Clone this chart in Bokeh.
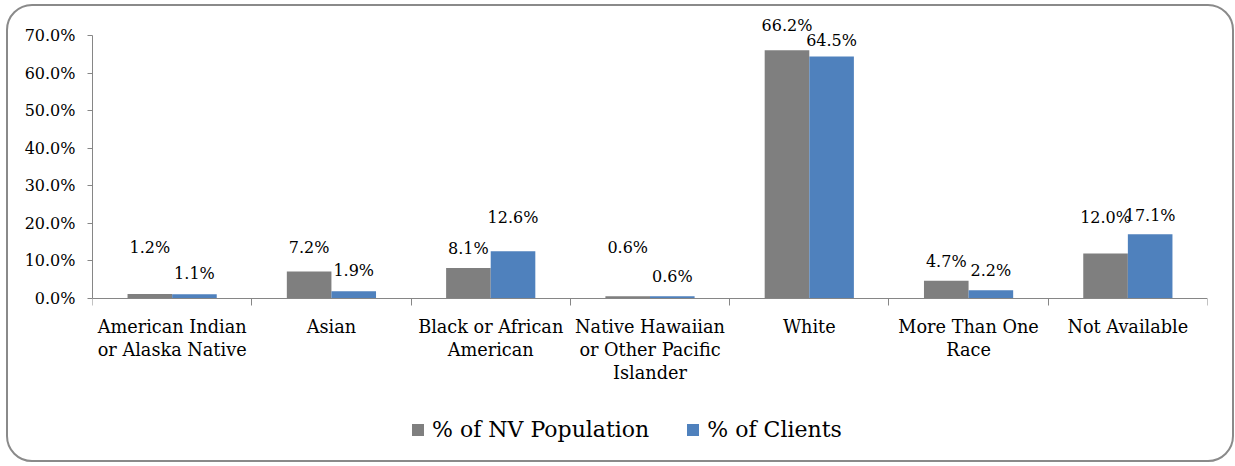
import numpy as np
from bokeh.plotting import figure
from bokeh.models import (ColumnDataSource, Range1d, FixedTicker, PrintfTickFormatter,
                          LabelSet, Legend, LegendItem)
from bokeh.core.properties import value
from bokeh.embed import file_html
from bokeh.resources import INLINE

# ---- data ----
categories = ["American Indian\nor Alaska Native", "Asian", "Black or African\nAmerican",
              "Native Hawaiian\nor Other Pacific\nIslander", "White", "More Than One\nRace",
              "Not Available"]
nv_population = [1.2, 7.2, 8.1, 0.6, 66.2, 4.7, 12.0]
clients = [1.1, 1.9, 12.6, 0.6, 64.5, 2.2, 17.1]
series_names = ["% of NV Population", "% of Clients"]
y_ticks = [0, 10, 20, 30, 40, 50, 60, 70]

# label placement heights (data units) as seen in the reference
nv_label_pos = [13.6, 13.6, 13.3, 13.6, 72.9, 9.8, 21.6]
cl_label_pos = [6.7, 7.5, 21.6, 5.9, 68.7, 7.5, 22.1]

GRAY = "#7F7F7F"
BLUE = "#4F81BD"
AXIS = "#868686"
FONT = "DejaVu Serif"

n = len(categories)
centers = np.arange(n) + 0.5
bw = 0.28

src_nv = ColumnDataSource(dict(x=centers - bw / 2, top=nv_population,
                               ly=nv_label_pos, txt=[f"{v:.1f}%" for v in nv_population]))
src_cl = ColumnDataSource(dict(x=centers + bw / 2, top=clients,
                               ly=cl_label_pos, txt=[f"{v:.1f}%" for v in clients]))

# frame runs from the top label area down to the bottom; x axis is pinned at y=0
p = figure(width=1228, height=458, output_backend="svg", toolbar_location=None,
           x_range=Range1d(0, n), y_range=Range1d(-44.27, 76),
           min_border_left=84, min_border_right=29, min_border_top=7, min_border_bottom=0)
p.border_fill_alpha = 0
p.background_fill_alpha = 0
p.outline_line_color = None
p.xgrid.visible = False
p.ygrid.visible = False
p.styles = {"border": "2px solid #8a8a8a", "border-radius": "26px",
            "margin-left": "6px", "margin-top": "4px"}

r1 = p.vbar(x="x", top="top", width=bw, source=src_nv, fill_color=GRAY, line_color=None)
r2 = p.vbar(x="x", top="top", width=bw, source=src_cl, fill_color=BLUE, line_color=None)

# x axis: category boundaries as minor ticks, names at centers
xa = p.xaxis[0]
xa.fixed_location = 0
xa.ticker = FixedTicker(ticks=list(centers), minor_ticks=list(range(n + 1)))
xa.major_label_overrides = {float(c): cat for c, cat in zip(centers, categories)}
xa.major_tick_in = 0
xa.major_tick_out = 0
xa.minor_tick_in = 0
xa.minor_tick_out = 7
xa.minor_tick_line_color = AXIS
xa.axis_line_color = AXIS
xa.major_label_standoff = 12
xa.major_label_text_font = FONT
xa.major_label_text_font_size = "17.7px"
xa.major_label_text_color = "#000000"
xa.major_label_text_line_height = 1.14

ya = p.yaxis[0]
ya.ticker = FixedTicker(ticks=y_ticks)
ya.formatter = PrintfTickFormatter(format="%.1f%%")
ya.bounds = (0, 70)
ya.minor_tick_line_color = None
ya.major_tick_in = 0
ya.major_tick_out = 5
ya.major_tick_line_color = AXIS
ya.axis_line_color = AXIS
ya.major_label_standoff = 12
ya.major_label_text_font = FONT
ya.major_label_text_font_size = "16px"
ya.major_label_text_color = "#000000"

for src in (src_nv, src_cl):
    p.add_layout(LabelSet(x="x", y="ly", text="txt", source=src, text_align="center",
                          text_baseline="middle", text_font=value(FONT),
                          text_font_size=value("16px"), text_color="#000000"))

legend = Legend(items=[LegendItem(label=series_names[0], renderers=[r1]),
                       LegendItem(label=series_names[1], renderers=[r2])],
                orientation="horizontal", location=(318, 22),
                glyph_width=15, glyph_height=15, label_standoff=7, spacing=36,
                padding=0, margin=0, border_line_color=None, background_fill_alpha=0,
                label_text_font=FONT, label_text_font_size="22px", label_text_color="#000000")
p.add_layout(legend, "center")

open("out.html", "w").write(file_html(p, INLINE))
